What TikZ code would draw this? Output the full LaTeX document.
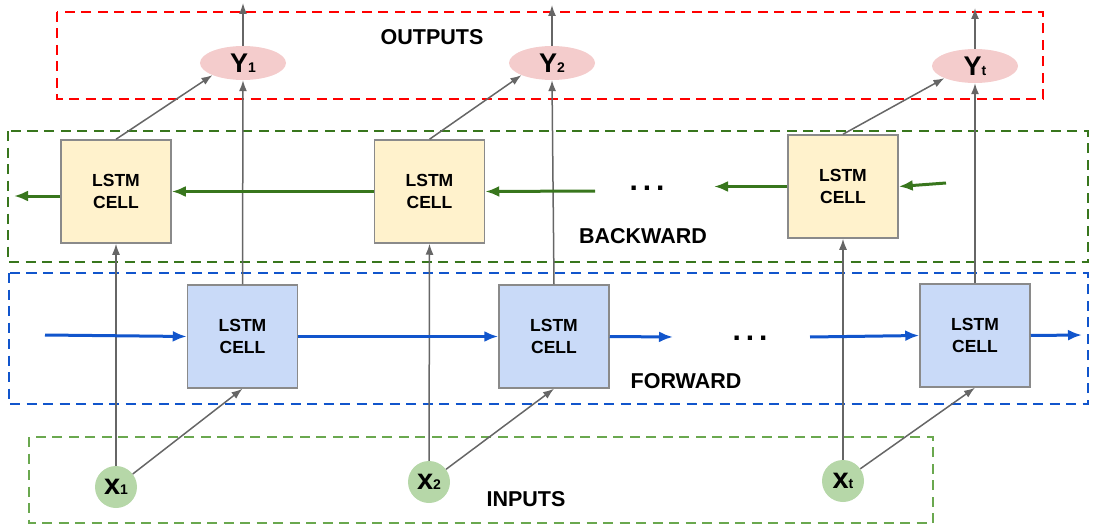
\documentclass[tikz,border=0pt]{standalone}
\usepackage{fontspec}
\setmainfont{Liberation Sans}
\usetikzlibrary{arrows.meta,shapes.geometric}

\definecolor{outred}{HTML}{FF0000}
\definecolor{bwgreen}{HTML}{38761D}
\definecolor{fwblue}{HTML}{1155CC}
\definecolor{ingreen}{HTML}{6AA84F}
\definecolor{bwfill}{HTML}{FFF2CC}
\definecolor{fwfill}{HTML}{C9DAF8}
\definecolor{cellline}{HTML}{8A8A8A}
\definecolor{yfill}{HTML}{F4CCCC}
\definecolor{xfill}{HTML}{B6D7A8}
\definecolor{linkgray}{HTML}{666666}

\newcommand{\sub}[1]{{\fontsize{14}{14}\selectfont #1}}

\begin{document}
\begin{tikzpicture}[x=1pt,y=-1pt,
  cellbox/.style={draw=cellline, line width=1.5pt, minimum width=110pt,
    minimum height=103pt, inner sep=0pt, align=center,
    font=\fontsize{17.5}{22}\selectfont\bfseries},
  bwcell/.style={cellbox, fill=bwfill},
  fwcell/.style={cellbox, fill=fwfill},
  ynode/.style={ellipse, fill=yfill, minimum width=86pt, minimum height=34pt,
    inner sep=0pt, font=\fontsize{27}{27}\selectfont\bfseries},
  xnode/.style={circle, fill=xfill, minimum size=42pt, inner sep=0pt,
    font=\fontsize{29}{29}\selectfont\bfseries},
  frame/.style={line width=2.8pt, dash pattern=on 10pt off 6.5pt},
  lbl/.style={font=\fontsize{21.5}{25}\selectfont\bfseries},
  dots/.style={font=\fontsize{30}{30}\selectfont\bfseries},
  gry/.style={draw=linkgray, line width=1.5pt, -{Latex[length=11pt,width=8pt]}},
  grn/.style={draw=bwgreen, line width=3pt, -{Latex[length=14pt,width=11pt]}},
  blu/.style={draw=fwblue, line width=3pt, -{Latex[length=14pt,width=11pt]}}]
\useasboundingbox (0,0) rectangle (1096,527);

% group frames
\draw[frame, draw=outred]  (57,12)  rectangle (1043,99);
\draw[frame, draw=bwgreen] (8,131)  rectangle (1088,262);
\draw[frame, draw=fwblue]  (9,273)  rectangle (1088,404);
\draw[frame, draw=ingreen] (29,437) rectangle (933,523);

% frame labels
\node[lbl] (outlbl) at (432,37)  {OUTPUTS};
\node[lbl] (bwlbl)  at (643,236) {BACKWARD};
\node[lbl] (fwlbl)  at (686,381) {FORWARD};
\node[lbl] (inlbl)  at (526,499) {INPUTS};

% backward cells
\node[bwcell] (b1) at (116,191.5) {LSTM\\CELL};
\node[bwcell] (b2) at (429.5,191.5) {LSTM\\CELL};
\node[bwcell] (b3) at (843,186.5) {LSTM\\CELL};

% forward cells
\node[fwcell] (f1) at (242.5,336.5) {LSTM\\CELL};
\node[fwcell] (f2) at (554,336.5) {LSTM\\CELL};
\node[fwcell] (f3) at (975,335.5) {LSTM\\CELL};

% outputs
\node[ynode] (y1) at (243,63) {Y\sub{1}};
\node[ynode] (y2) at (552,63) {Y\sub{2}};
\node[ynode] (yt) at (975,66) {Y\sub{t}};

% inputs
\node[xnode] (x1) at (116,487) {x\sub{1}};
\node[xnode] (x2) at (429,482) {x\sub{2}};
\node[xnode] (xt) at (843,481) {x\sub{t}};

% ellipses
\node[dots] (bdots) at (647,188) {.\,.\,.};
\node[dots] (fdots) at (750,338) {.\,.\,.};

% free ends
\coordinate (y1out) at (243,3);
\coordinate (y2out) at (552,5);
\coordinate (ytout) at (975,8);
\coordinate (bwleft)  at (14,196);
\coordinate (bwfrom)  at (595,191);
\coordinate (bwto)    at (714,186.5);
\coordinate (bwright) at (946,183);
\coordinate (fwleft)  at (45,335);
\coordinate (fwto)    at (673,337);
\coordinate (fwfrom)  at (810,337);
\coordinate (fwright) at (1082,335);

% inputs feeding the cells
\draw[gry] (x1) -- (b1);
\draw[gry] (x1) -- (f1.south);
\draw[gry] (x2) -- (b2.south);
\draw[gry] (x2) -- (f2.south);
\draw[gry] (xt) -- (b3);
\draw[gry] (xt) -- (f3.south);

% cells feeding the outputs
\draw[gry] (f1.north) -- (y1.south);
\draw[gry] (b1.north) -- (y1.south west);
\draw[gry] (f2.north) -- (y2.south);
\draw[gry] (b2.north) -- (y2.south west);
\draw[gry] (f3.north) -- (yt.south);
\draw[gry] (b3.north) -- (yt.south west);

% outputs leaving
\draw[gry] (y1) -- (y1out);
\draw[gry] (y2) -- (y2out);
\draw[gry] (yt) -- (ytout);

% backward chain
\draw[grn] (b1.west |- bwleft) -- (bwleft);
\draw[grn] (b2.west) -- (b1.east);
\draw[grn] (bwfrom) -- (b2.east);
\draw[grn] (b3.west) -- (bwto);
\draw[grn] (bwright) -- (b3.east);

% forward chain
\draw[blu] (fwleft) -- (f1.west);
\draw[blu] (f1.east) -- (f2.west);
\draw[blu] (f2.east) -- (fwto);
\draw[blu] (fwfrom) -- (f3.west);
\draw[blu] (f3.east) -- (fwright);
\end{tikzpicture}
\end{document}
